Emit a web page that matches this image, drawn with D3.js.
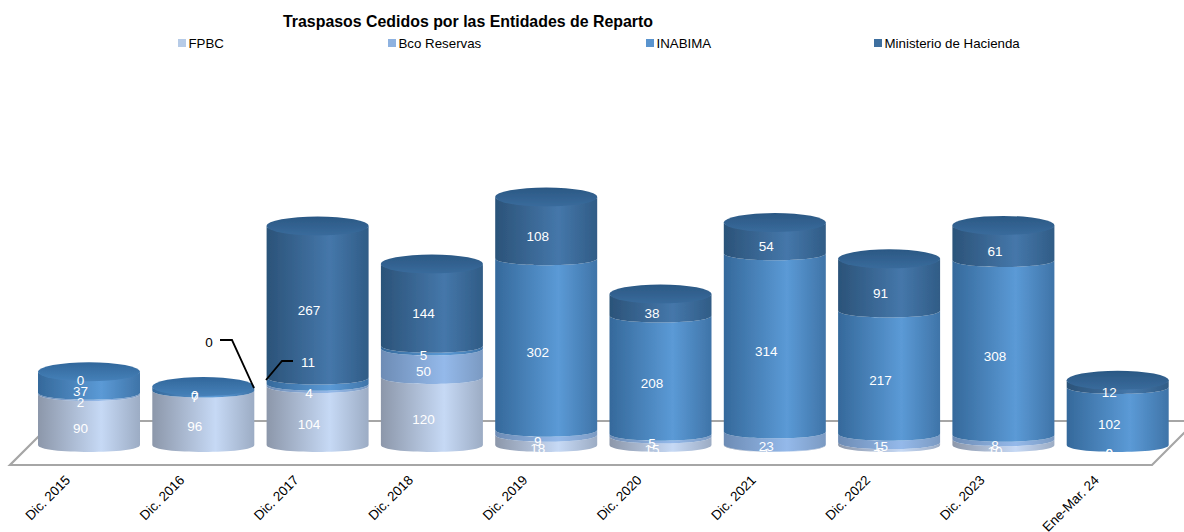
<!DOCTYPE html>
<html><head><meta charset="utf-8">
<script src="https://cdn.jsdelivr.net/npm/d3@7/dist/d3.min.js"></script>
<style>html,body{margin:0;padding:0;background:#fff}svg{display:block}text{font-family:"Liberation Sans",Arial,sans-serif}</style>
</head><body><svg id="c" width="1184" height="532"></svg>
<script>
const categories=["Dic. 2015","Dic. 2016","Dic. 2017","Dic. 2018","Dic. 2019","Dic. 2020","Dic. 2021","Dic. 2022","Dic. 2023","Ene-Mar. 24"];
const seriesNames=["FPBC","Bco Reservas","INABIMA","Ministerio de Hacienda"];
const fpbc=[90,96,104,120,18,15,1,5,10,0];
const bcoReservas=[2,0,4,50,9,5,23,15,8,0];
const inabima=[37,7,11,5,302,208,314,217,308,102];
const hacienda=[0,0,267,144,108,38,54,91,61,12];
const legendColors=["#b6cbe7","#8eb2e0","#5a94ce","#3e6f9f"];
const legendX=[178,388,646,874];
const sideColors=[["#8c97aa","#c6d9f5","#9cacc4"],["#6d8cb5","#94b9ea","#7b9ac2"],["#35699b","#5b9ad6","#3f74a8"],["#2b5379","#4577aa","#305c86"]];
const topColors=[["#a9bbd6","#c3d6f2"],["#7ea2d0","#94b9ea"],["#31679b","#4681b9"],["#2b5884","#396b9c"]];
const series=[fpbc,bcoReservas,inabima,hacienda];

const svg=d3.select("#c");
const x=d3.scaleBand().domain(categories).range([38,1168.7]).paddingInner(0.1076).paddingOuter(0);
const y=d3.scaleLinear().domain([0,437]).range([445,197]);
const ry=9.5, arc=7, labelShift=8.5, labelLeft=8.5;
const stacked=d3.stack().keys(d3.range(4)).value((i,k)=>series[k][i])(d3.range(categories.length));

const defs=svg.append("defs");
sideColors.forEach((c,i)=>{
  const g=defs.append("linearGradient").attr("id","s"+i);
  [[0,c[0]],[0.62,c[1]],[1,c[2]]].forEach(s=>g.append("stop").attr("offset",s[0]).attr("stop-color",s[1]));
});
topColors.forEach((c,i)=>{
  const g=defs.append("linearGradient").attr("id","t"+i).attr("x1",0).attr("x2",0).attr("y1",0).attr("y2",1);
  g.append("stop").attr("offset",0).attr("stop-color",c[0]);
  g.append("stop").attr("offset",1).attr("stop-color",c[1]);
});
defs.append("filter").attr("id","soft").attr("x","-5%").attr("y","-5%").attr("width","110%").attr("height","110%")
  .append("feGaussianBlur").attr("stdDeviation",0.5);

svg.append("text").attr("x",468).attr("y",27).attr("text-anchor","middle").attr("font-weight","bold").attr("font-size",15.9).attr("fill","#000").text("Traspasos Cedidos por las Entidades de Reparto");
const lg=svg.append("g").selectAll("g").data(seriesNames).join("g").attr("transform",(d,i)=>`translate(${legendX[i]},0)`);
lg.append("rect").attr("y",39).attr("width",8).attr("height",8).attr("fill",(d,i)=>legendColors[i]);
lg.append("text").attr("x",10.5).attr("y",48).attr("font-size",13.3).attr("fill","#000").text(d=>d);

const floor=d3.path();
floor.moveTo(10,465);floor.lineTo(1152,465);floor.lineTo(1196,421);floor.lineTo(54,421);floor.closePath();
svg.append("path").attr("d",floor.toString()).attr("fill","none").attr("stroke","#a6a6a6").attr("stroke-width",2.2);

const side=(cx,rx,y0,y1,d0)=>{const p=d3.path();p.moveTo(cx-rx,y1);p.lineTo(cx-rx,y0);
  p.bezierCurveTo(cx-rx,y0+d0*1.33,cx+rx,y0+d0*1.33,cx+rx,y0);p.lineTo(cx+rx,y1);
  p.bezierCurveTo(cx+rx,y1+arc*1.33,cx-rx,y1+arc*1.33,cx-rx,y1);p.closePath();return p.toString();};
categories.forEach((cat,i)=>{
  const cx=x(cat)+x.bandwidth()/2,rx=x.bandwidth()/2;
  const g=svg.append("g").attr("filter","url(#soft)");
  let topIdx=0;
  stacked.forEach((s,k)=>{
    const [a,b]=s[i];
    if(series[k][i]>0){topIdx=k;
      g.append("path").attr("d",side(cx,rx,y(b),y(a),arc)).attr("fill",`url(#s${k})`);}
  });
  const total=stacked[3][i][1];
  g.append("ellipse").attr("cx",cx).attr("cy",y(total)).attr("rx",rx).attr("ry",ry).attr("fill",`url(#t${topIdx})`);
});

const moved={"1-1":[209,342],"2-2":[308,362]};
stacked.forEach((s,k)=>{
  categories.forEach((cat,i)=>{
    const [a,b]=s[i];const pos=moved[i+"-"+k];
    const cx=x(cat)+x.bandwidth()/2-labelLeft;
    const lx=pos?pos[0]:cx, ly=pos?pos[1]:y((a+b)/2)+labelShift;
    svg.append("text").attr("x",lx).attr("y",ly).attr("dy","0.36em").attr("text-anchor","middle").attr("font-size",13.5)
      .attr("fill",(i===1&&k===1)?"#000":"#fff").text(series[k][i]);
  });
});
const line=d3.line();
svg.append("path").attr("d",line([[220,340],[232,340],[254,388]])).attr("fill","none").attr("stroke","#000").attr("stroke-width",1.8);
svg.append("path").attr("d",line([[293,361],[282,361],[266,380]])).attr("fill","none").attr("stroke","#000").attr("stroke-width",1.8);

const ax=svg.append("g").attr("transform","translate(0,470)").call(d3.axisBottom(x).tickSize(0).tickPadding(0));
ax.select(".domain").remove();
ax.selectAll("text").attr("font-size",13.4).attr("fill","#000").style("font-family",'"Liberation Sans",Arial,sans-serif')
  .attr("text-anchor","end").attr("dy",0).attr("y",0).attr("x",0).attr("transform","translate(-18,11) rotate(-45)");
</script></body></html>
